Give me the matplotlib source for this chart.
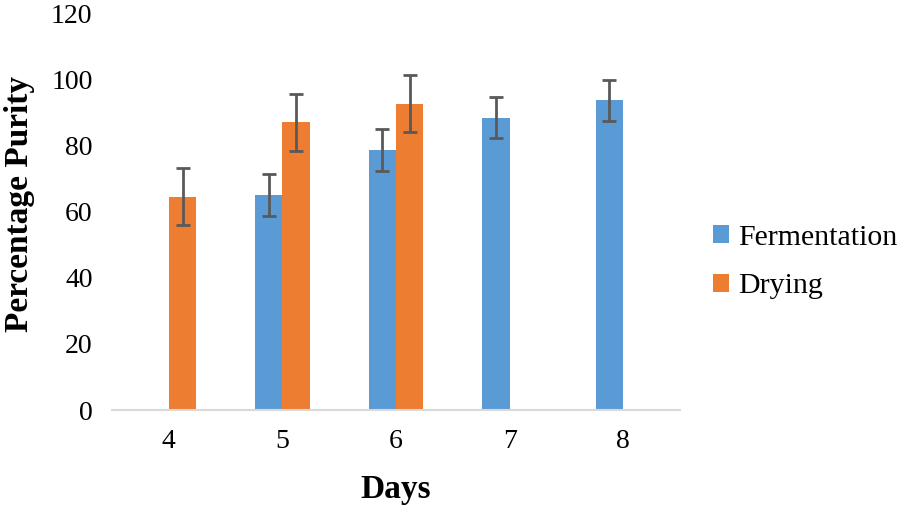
import matplotlib.pyplot as plt
import numpy as np

# data
days = ["4", "5", "6", "7", "8"]
fermentation = [np.nan, 65.0, 78.5, 88.4, 93.6]
fermentation_err = [np.nan, 6.3, 6.3, 6.3, 6.3]
drying = [64.4, 87.0, 92.6, np.nan, np.nan]
drying_err = [8.6, 8.6, 8.6, np.nan, np.nan]

plt.rcParams['font.family'] = ['Liberation Serif', 'DejaVu Serif']

fig = plt.figure(figsize=(9.04, 5.08), dpi=100)
ax = fig.add_axes([0.1239, 0.1929, 0.6283, 0.7815])

x = np.arange(len(days))
w = 0.242
err_kw = dict(ecolor='#595959', elinewidth=2.0, capsize=5, capthick=2.0)

ax.bar(x - w / 2, fermentation, w, yerr=fermentation_err, color='#5B9BD5',
       label='Fermentation', error_kw=err_kw)
ax.bar(x + w / 2, drying, w, yerr=drying_err, color='#ED7D31',
       label='Drying', error_kw=err_kw)

ax.set_xlim(-0.5, len(days) - 0.5)
ax.set_ylim(0, 120)
ax.set_yticks(range(0, 121, 20))
ax.set_xticks(x)
ax.set_xticklabels(days)
ax.tick_params(axis='both', length=0, labelsize=20)
ax.tick_params(axis='y', pad=14)
ax.tick_params(axis='x', pad=14)

for s in ['top', 'right', 'left']:
    ax.spines[s].set_visible(False)
ax.spines['bottom'].set_color('#d9d9d9')
ax.spines['bottom'].set_linewidth(1.5)

ax.set_ylabel('Percentage Purity', fontsize=24, fontweight='bold')
ax.yaxis.set_label_coords(-0.136, 0.52)
ax.set_xlabel('Days', fontsize=24, fontweight='bold')
ax.xaxis.set_label_coords(0.5, -0.162)

fig.legend(loc='center left', bbox_to_anchor=(0.772, 0.484), frameon=False,
           fontsize=21.5, handlelength=0.55, handleheight=0.55, handletextpad=0.3,
           labelspacing=0.75, borderpad=0)

plt.savefig('out.png', dpi=100)
plt.close()
